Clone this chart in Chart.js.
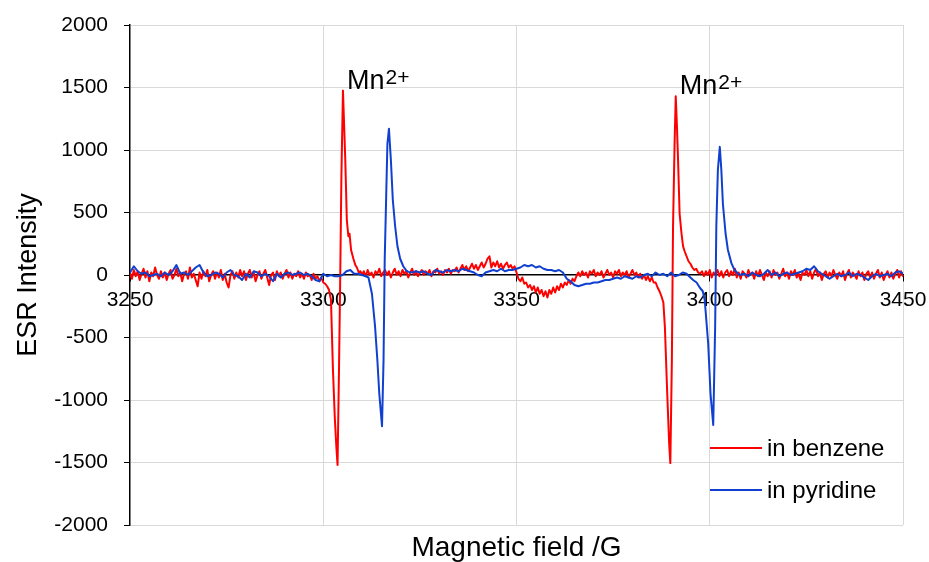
<!DOCTYPE html>
<html>
<head>
<meta charset="utf-8">
<script src="https://cdn.jsdelivr.net/npm/chart.js@4/dist/chart.umd.min.js"></script>
<style>
  html, body { margin: 0; padding: 0; background: #ffffff; }
  #wrap { position: relative; width: 929px; height: 562px; }
</style>
</head>
<body>
<div id="wrap"><canvas id="esr" width="929" height="562"></canvas></div>
<script>
// ESR spectra of the Mn2+ marker region, recorded in two solvents.

// Tick values for both axes
const fieldTicks = [3250, 3300, 3350, 3400, 3450];
const intensityTicks = [-2000, -1500, -1000, -500, 0, 500, 1000, 1500, 2000];

// Spectrum in benzene: field (G) and intensity
const benzeneField = [
  3250, 3250.5, 3251, 3251.5, 3252, 3252.5, 3253, 3253.5, 3254, 3254.5,
  3255, 3255.5, 3256, 3256.5, 3257, 3257.5, 3258, 3258.5, 3259, 3259.5,
  3260, 3260.5, 3261, 3261.5, 3262, 3262.5, 3263, 3263.5, 3264, 3264.5,
  3265, 3265.5, 3266, 3266.5, 3267, 3267.5, 3268, 3268.5, 3269, 3269.5,
  3270, 3270.5, 3271, 3271.5, 3272, 3272.5, 3273, 3273.5, 3274, 3274.5,
  3275, 3275.5, 3276, 3276.5, 3277, 3277.5, 3278, 3278.5, 3279, 3279.5,
  3280, 3280.5, 3281, 3281.5, 3282, 3282.5, 3283, 3283.5, 3284, 3284.5,
  3285, 3285.5, 3286, 3286.5, 3287, 3287.5, 3288, 3288.5, 3289, 3289.5,
  3290, 3290.5, 3291, 3291.5, 3292, 3292.5, 3293, 3293.5, 3294, 3294.5,
  3295, 3295.5, 3296, 3296.5, 3297, 3297.5, 3298, 3298.5, 3299, 3299.5,
  3300,
  3300.5, 3301, 3301.5, 3302, 3302.5, 3303, 3303.4, 3303.7, 3304.1, 3304.4,
  3304.7, 3305.1, 3305.4, 3305.7, 3306.1, 3306.5, 3306.8, 3307.2, 3307.8, 3308.3,
  3308.7, 3309.2, 3309.6, 3310,
  3310.5, 3311, 3311.5, 3312, 3312.5, 3313, 3313.5, 3314, 3314.5, 3315,
  3315.5, 3316, 3316.5, 3317, 3317.5, 3318, 3318.5, 3319, 3319.5, 3320,
  3320.5, 3321, 3321.5, 3322, 3322.5, 3323, 3323.5, 3324, 3324.5, 3325,
  3325.5, 3326, 3326.5, 3327, 3327.5, 3328, 3328.5, 3329, 3329.5, 3330,
  3330.5, 3331, 3331.5, 3332, 3332.5, 3333, 3333.5, 3334, 3334.5, 3335,
  3335.5, 3336, 3336.5, 3337, 3337.5, 3338, 3338.5, 3339, 3339.5, 3340,
  3340.5, 3341, 3341.5, 3342, 3342.5, 3343, 3343.5, 3344, 3344.5, 3345,
  3345.5, 3346, 3346.5, 3347, 3347.5, 3348, 3348.5, 3349, 3349.5, 3350,
  3350.5, 3351, 3351.5, 3352, 3352.5, 3353, 3353.5, 3354, 3354.5, 3355,
  3355.5, 3356, 3356.5, 3357, 3357.5, 3358, 3358.5, 3359, 3359.5, 3360,
  3360.5, 3361, 3361.5, 3362, 3362.5, 3363, 3363.5, 3364, 3364.5, 3365,
  3365.5, 3366, 3366.5, 3367, 3367.5, 3368, 3368.5, 3369, 3369.5, 3370,
  3370.5, 3371, 3371.5, 3372, 3372.5, 3373, 3373.5, 3374, 3374.5, 3375,
  3375.5, 3376, 3376.5, 3377, 3377.5, 3378, 3378.5, 3379, 3379.5, 3380,
  3380.5, 3381, 3381.5, 3382, 3382.5, 3383, 3383.5, 3384, 3384.5, 3385,
  3385.5,
  3386, 3386.5, 3387, 3387.5, 3388, 3388.4, 3389, 3389.5, 3389.8, 3390.2,
  3390.5, 3390.9, 3391.2, 3391.5, 3391.8, 3392.2, 3392.7, 3393.1, 3393.5, 3394,
  3394.5, 3395, 3395.5, 3396, 3396.5, 3397, 3397.5, 3398,
  3398.5, 3399, 3399.5, 3400, 3400.5, 3401, 3401.5, 3402, 3402.5, 3403,
  3403.5, 3404, 3404.5, 3405, 3405.5, 3406, 3406.5, 3407, 3407.5, 3408,
  3408.5, 3409, 3409.5, 3410, 3410.5, 3411, 3411.5, 3412, 3412.5, 3413,
  3413.5, 3414, 3414.5, 3415, 3415.5, 3416, 3416.5, 3417, 3417.5, 3418,
  3418.5, 3419, 3419.5, 3420, 3420.5, 3421, 3421.5, 3422, 3422.5, 3423,
  3423.5, 3424, 3424.5, 3425, 3425.5, 3426, 3426.5, 3427, 3427.5, 3428,
  3428.5, 3429, 3429.5, 3430, 3430.5, 3431, 3431.5, 3432, 3432.5, 3433,
  3433.5, 3434, 3434.5, 3435, 3435.5, 3436, 3436.5, 3437, 3437.5, 3438,
  3438.5, 3439, 3439.5, 3440, 3440.5, 3441, 3441.5, 3442, 3442.5, 3443,
  3443.5, 3444, 3444.5, 3445, 3445.5, 3446, 3446.5, 3447, 3447.5, 3448,
  3448.5, 3449, 3449.5, 3450
];
const benzeneIntensity = [
  20, -30, 40, -10, 30, -40, 10, 50, -20, 30,
  -50, 20, -10, 60, 0, -30, 30, -20, 20, -40,
  10, 40, -30, 0, 50, -10, 20, -50, 10, 30,
  -30, 60, -20, 10, -40, -90, 20, -30, 30, -10,
  40, -50, 0, 30, -30, 20, -20, 40, -40, 10,
  -60, -100, 0, 30, -30, 20, -20, 40, -10, 30,
  -40, 10, 40, -20, 20, -50, 0, 30, -30, 10,
  40, -20, -80, 0, 20, -40, 30, -10, 20, -30,
  10, 40, -20, 20, -30, 10, -10, 30, -20, 10,
  -30, 20, -10, 0, -40, 10, -30, -10, -50, -20,
  -60,
  -70, -90, -120, -200, -750, -1150, -1380, -1520, -700, 0,
  800, 1475, 1200, 920, 440, 310, 330, 200, 130, 80,
  60, 20, 30, 0,
  30, -10, 40, 0, 20, -20, 30, 10, 50, -10,
  20, 40, 0, 30, -20, 20, 50, 0, 30, -10,
  40, 10, 30, -20, 20, 50, 0, 30, -10, 20,
  40, 0, 30, 10, 40, -10, 30, 20, 50, 10,
  30, 0, 40, 20, 50, 10, 40, 30, 60, 20,
  50, 80, 40, 70, 30, 60, 90, 50, 80, 40,
  70, 100, 60, 90, 130, 150, 60, 100, 70, 110,
  60, 90, 50, 80, 100, 60, 80, 50, 70, 20,
  -30, -50, -20, -70, -60, -100, -80, -120, -90, -140,
  -100, -150, -120, -170, -130, -180, -120, -150, -100, -140,
  -90, -120, -70, -100, -60, -80, -40, -70, -30, -50,
  -10, 20, -10, 30, 0, 20, -20, 30, 10, 40,
  -10, 20, 0, 30, -20, 10, 40, 0, 20, -20,
  30, 10, 40, -10, 20, 0, 30, -20, 10, 40,
  0, 20, -20, 10, -30, 0, -40, -10, -50, -20,
  -60,
  -60, -100, -130, -170, -220, -420, -950, -1350, -1505, -680,
  390, 1050, 1430, 1200, 920, 490, 330, 230, 190, 150,
  110, 90, 60, 40, 50, 20, 10, 30,
  -10, 30, 0, 40, -20, 20, 0, 40, -10, 30,
  -20, 20, 40, -10, 30, 0, 50, -20, 20, -30,
  30, 10, -20, 40, 0, 20, -30, 30, -10, 40,
  0, -40, 20, -10, 30, -20, 40, 0, 20, -30,
  10, 50, -10, 20, -30, 30, 0, 40, -20, 10,
  -40, 20, 0, 40, -10, 30, -30, 20, 50, -10,
  20, -40, 10, 30, -20, 20, -10, 40, 0, -30,
  20, -10, 30, -40, 10, 40, -20, 20, 0, -30,
  30, -10, 20, -40, 10, 30, -20, 20, -30, 10,
  40, -20, 20, -40, 0, 30, -20, 20, -30, 10,
  40, -20, 30, -10
];

// Spectrum in pyridine: field (G) and intensity
const pyridineField = [
  3250, 3251, 3252, 3253, 3254, 3255, 3256, 3257, 3258, 3259,
  3260, 3261, 3262, 3263, 3264, 3265, 3266, 3267, 3268, 3269,
  3270, 3271, 3272, 3273, 3274, 3275, 3276, 3277, 3278, 3279,
  3280, 3281, 3282, 3283, 3284, 3285, 3286, 3287, 3288, 3289,
  3290, 3291, 3292, 3293, 3294, 3295, 3296, 3297, 3298, 3299,
  3300, 3301, 3302, 3303, 3304, 3305, 3306, 3307, 3308, 3309,
  3310,
  3311, 3311.7, 3312.6, 3313.4, 3314, 3314.5, 3315.2, 3315.6, 3315.9, 3316.3,
  3316.6, 3317, 3317.5, 3318, 3318.6, 3319.2, 3319.9, 3320.7, 3321.5, 3322,
  3323, 3324, 3325, 3326, 3327, 3328, 3329, 3330, 3331, 3332,
  3333, 3334, 3335, 3336, 3337, 3338, 3339, 3340, 3341, 3342,
  3343, 3344, 3345, 3346, 3347, 3348, 3349, 3350, 3351, 3352,
  3353, 3354, 3355, 3356, 3357, 3358, 3359, 3360, 3361, 3362,
  3363, 3364, 3365, 3366, 3367, 3368, 3369, 3370, 3371, 3372,
  3373, 3374, 3375, 3376, 3377, 3378, 3379, 3380, 3381, 3382,
  3383, 3384, 3385, 3386, 3387, 3388, 3389, 3390, 3391, 3392,
  3393, 3394, 3395,
  3395.7, 3396.6, 3397.4, 3398.2, 3398.7, 3399.6, 3400.2, 3400.9, 3401.4, 3401.7,
  3402.1, 3402.6, 3403, 3403.4, 3404.1, 3404.7, 3405.6, 3406.4, 3407.7,
  3409, 3410, 3411, 3412, 3413, 3414, 3415, 3416, 3417, 3418,
  3419, 3420, 3421, 3422, 3423, 3424, 3425, 3426, 3427, 3428,
  3429, 3430, 3431, 3432, 3433, 3434, 3435, 3436, 3437, 3438,
  3439, 3440, 3441, 3442, 3443, 3444, 3445, 3446, 3447, 3448,
  3449, 3450
];
const pyridineIntensity = [
  20, 70, 30, 10, 20, -10, 0, 10, -10, 20,
  0, 30, 80, 10, 20, 0, 30, 60, 80, 20,
  -10, 0, 20, 10, -20, 20, 40, 0, -10, -40,
  10, -20, 30, 20, -10, 10, -10, -50, 10, -20,
  10, 20, 0, 10, 20, 0, 10, -10, -40, -50,
  10, -10, 0, -10, -10, 0, 30, 40, 10, 10,
  0,
  -10, -20, -150, -410, -680, -950, -1210, -680, 120, 650,
  1050, 1170, 920, 600, 390, 230, 130, 70, 35, 25,
  20, 30, 20, 30, 10, 0, 40, 30, 20, 40,
  30, 40, 30, 50, 40, 30, 20, 0, -10, 20,
  30, 40, 30, 50, 30, 40, 40, 50, 60, 80,
  70, 80, 60, 70, 50, 40, 40, 30, 40, 20,
  -30, -50, -80, -90, -80, -70, -70, -60, -60, -50,
  -40, -40, -30, -20, -30, -10, -20, -30, -10, -20,
  0, 10, -10, 20, 0, 10, -10, 20, -10, 0,
  20, 10, -20,
  -40, -60, -100, -130, -200, -550, -950, -1200, -410, 390,
  840, 1025, 840, 570, 330, 200, 95, 40, 0,
  10, -10, 20, 0, -10, 10, 40, 0, 20, -10,
  10, 20, 0, 10, 20, 30, 50, 40, 70, 30,
  10, -10, -30, -10, 10, -10, 0, 20, -10, 10,
  0, -20, -40, -10, 10, -10, 0, 10, -10, 20,
  30, 10
];

const FONT = '"Liberation Sans", Arial, Helvetica, sans-serif';
Chart.defaults.font.family = FONT;
Chart.defaults.color = '#000000';

const toPoints = (xs, ys) => xs.map((x, i) => ({ x: x, y: ys[i] }));
const GRID = '#d9d9d9';
const NONE = 'rgba(0,0,0,0)';
const setTicks = (values) => (scale) => { scale.ticks = values.map(v => ({ value: v })); };
// Scales should not push the plot area around: the layout padding alone sets it.
const noOverhang = (s) => { s.paddingTop = 0; s.paddingBottom = 0; s.paddingLeft = 0; s.paddingRight = 0; };

// "Mn2+" tags placed just above each benzene line maximum
const mnLabels = {
  id: 'mnLabels',
  afterDatasetsDraw(chart) {
    const { ctx, scales } = chart;
    const peaks = [];
    benzeneIntensity.forEach((v, i) => {
      if (v > 1000 && v >= (benzeneIntensity[i - 1] ?? -Infinity) && v >= (benzeneIntensity[i + 1] ?? -Infinity)) {
        peaks.push(i);
      }
    });
    ctx.save();
    ctx.fillStyle = '#000000';
    ctx.textBaseline = 'alphabetic';
    peaks.forEach((i) => {
      const px = scales.x.getPixelForValue(benzeneField[i]) + 4;
      const py = scales.y.getPixelForValue(benzeneIntensity[i]) - 2;
      ctx.font = '27px ' + FONT;
      ctx.fillText('Mn', px, py);
      const w = ctx.measureText('Mn').width;
      ctx.font = '21px ' + FONT;
      ctx.fillText('2+', px + w + 1, py - 5);
    });
    ctx.restore();
  }
};

// Legend drawn inside the plot, lower right corner
const innerLegend = {
  id: 'innerLegend',
  afterDatasetsDraw(chart) {
    const { ctx, chartArea } = chart;
    ctx.save();
    ctx.font = '24px ' + FONT;
    ctx.textBaseline = 'middle';
    chart.data.datasets.forEach((ds, i) => {
      const x = chartArea.right - 193;
      const y = chartArea.bottom - 77 + i * 42;
      ctx.strokeStyle = ds.borderColor;
      ctx.lineWidth = 2;
      ctx.beginPath();
      ctx.moveTo(x, y);
      ctx.lineTo(x + 52, y);
      ctx.stroke();
      ctx.fillStyle = '#000000';
      ctx.fillText(ds.label, x + 57, y + 1);
    });
    ctx.restore();
  }
};

new Chart(document.getElementById('esr'), {
  type: 'line',
  data: {
    datasets: [
      {
        label: 'in benzene',
        data: toPoints(benzeneField, benzeneIntensity),
        borderColor: '#ff0000',
        borderWidth: 2,
        order: 1
      },
      {
        label: 'in pyridine',
        data: toPoints(pyridineField, pyridineIntensity),
        borderColor: '#1040d0',
        borderWidth: 2,
        order: 0
      }
    ]
  },
  options: {
    responsive: false,
    animation: false,
    devicePixelRatio: 1,
    elements: {
      point: { radius: 0, hoverRadius: 0 },
      line: { tension: 0, borderJoinStyle: 'round', borderCapStyle: 'round' }
    },
    layout: { padding: { top: 25, right: 26, bottom: 0, left: 0 } },
    plugins: { legend: { display: false }, tooltip: { enabled: false } },
    scales: {
      x: {
        type: 'linear',
        position: 'bottom',
        min: 3250,
        max: 3450,
        afterBuildTicks: setTicks(fieldTicks),
        ticks: { display: false },
        grid: {
          color: (c) => (c.tick && c.tick.value === fieldTicks[0]) ? NONE : GRID,
          lineWidth: 1,
          drawTicks: false
        },
        border: { display: false },
        title: {
          display: true,
          text: 'Magnetic field /G',
          font: { size: 28 },
          color: '#000000',
          padding: { top: 0, bottom: -3 }
        },
        afterFit: (s) => { s.height = 37; noOverhang(s); }
      },
      xZero: {
        axis: 'x',
        type: 'linear',
        position: { y: 0 },
        min: 3250,
        max: 3450,
        afterBuildTicks: setTicks(fieldTicks),
        ticks: {
          font: { size: 21 },
          color: '#000000',
          maxRotation: 0,
          autoSkip: false,
          padding: 7,
          callback: (v) => String(v)
        },
        grid: { drawOnChartArea: false, tickLength: 6, tickColor: '#000000', tickWidth: 1 },
        border: { display: true, color: '#000000', width: 1.5 },
        afterFit: noOverhang
      },
      y: {
        type: 'linear',
        min: -2000,
        max: 2000,
        afterBuildTicks: setTicks(intensityTicks),
        ticks: {
          font: { size: 21 },
          color: '#000000',
          padding: 16,
          callback: (v) => String(v)
        },
        grid: {
          color: (c) => (c.tick && c.tick.value === 0) ? NONE : GRID,
          lineWidth: 1,
          tickColor: '#000000',
          tickLength: 6
        },
        border: { display: true, color: '#000000', width: 1.5 },
        title: {
          display: true,
          text: 'ESR Intensity',
          font: { size: 27 },
          color: '#000000',
          padding: { top: 12, bottom: 0 }
        },
        afterFit: (s) => { s.width = 130; noOverhang(s); }
      }
    }
  },
  plugins: [mnLabels, innerLegend]
});
</script>
</body>
</html>
